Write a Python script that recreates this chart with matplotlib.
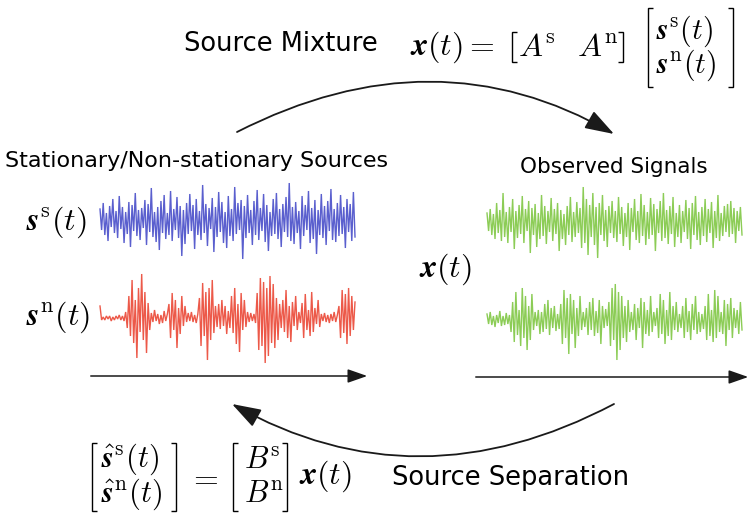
import matplotlib
matplotlib.use("Agg")
import matplotlib.pyplot as plt
from matplotlib.patches import FancyArrowPatch
from matplotlib.path import Path
from matplotlib.mathtext import MathTextParser

plt.rcParams['mathtext.fontset'] = 'cm'
plt.rcParams['font.family'] = ['DejaVu Sans']

# ---- signal data (pixel amplitudes, positive = up) ----
blue_s = [12,-9,18,-14,8,-20,15,-6,22,-12,10,-17,25,-8,14,-22,9,-13,19,-26,16,-10,28,-15,11,-19,13,-7,21,-24,
          17,-11,33,-16,9,-21,14,-29,20,-12,26,-18,8,-14,30,-20,12,-9,24,-17,15,-35,11,-23,18,-13,27,-10,16,-28,
          22,-14,10,-19,36,-12,17,-25,13,-8,23,-31,14,-16,29,-11,19,-22,9,-27,25,-15,12,-20,34,-13,18,-9,21,-38,
          15,-17,26,-12,11,-24,20,-14,31,-19,13,-10,27,-21,16,-30,9,-15,22,-13,28,-18,12,-26,17,-11,24,-16,38,-20,
          14,-23,19,-12,10,-28,25,-15,16,-9,30,-22,13,-18,21,-33,11,-14,27,-17,15,-24,20,-10,32,-19,12,-21,18,-15,
          26,-13,14,-27,22,-11,17,-20,29,-16]
red_n = [12,-2,1,-2,2,-1,2,-3,1,-2,2,-1,3,-2,2,-3,
         6,-10,22,-18,38,-25,18,-40,30,-14,44,-22,26,-35,15,-12,
         5,-4,8,-3,4,-6,3,-5,7,-3,4,
         14,-20,25,-12,18,-30,10,-16,22,-8,12,
         -4,5,-3,6,-4,3,-5,4,
         20,-28,35,-18,26,-42,30,-22,38,-15,12,
         -9,14,-11,18,-8,12,-16,7,-10,
         22,-15,30,-26,14,-34,25,-12,18,-9,6,
         -4,5,-3,4,-5,
         25,-32,40,-28,36,-45,30,-38,42,-25,34,-30,20,-22,14,
         -10,18,-14,28,-20,12,-24,16,-8,22,-12,6,
         -5,15,-20,24,-12,8,-18,26,-14,10,-6,18,-9,4,
         -3,5,-4,3,-5,4,-3,6,-4,3,
         12,-20,28,-15,24,-26,30,-18,22,-12,16]
green_1 = [10,-8,14,-12,9,-16,20,-10,13,-18,30,-14,11,-20,16,-9,24,-26,12,-15,
           18,-11,27,-20,14,-8,22,-30,15,-12,19,-24,10,-16,28,-13,17,-21,12,-9,
           25,-18,14,-11,20,-28,13,-16,9,-22,17,-12,26,-19,11,-14,21,-10,15,-25,
           36,-20,24,-32,18,-14,30,-22,16,-35,20,-12,28,-18,13,-24,17,-10,22,-15,
           12,-19,26,-11,16,-23,10,-14,20,-27,15,-9,24,-17,12,-20,29,-13,18,-22,
           11,-16,25,-12,19,-28,14,-10,22,-18,30,-15,13,-21,17,-11,26,-24,10,-14,
           18,-20,12,-9,23,-16,15,-26,20,-12,27,-17,11,-22,16,-13,24,-19,14,-10,
           21,-25,12,-15,28,-18,10,-13,17,-9,19,-14,22,-11,15,-20,12,-8,16,-12]
green_2 = [6,-4,8,-5,4,-7,5,-3,9,-6,4,-5,7,-4,5,
           -12,18,-22,28,-15,10,-26,32,-18,24,-30,14,-20,26,-10,8,
           -6,10,-14,8,-12,16,-9,20,-15,12,-8,14,-11,6,-9,
           16,-24,30,-18,22,-34,26,-14,20,-28,12,-16,24,-10,8,
           -7,12,-15,18,-10,22,-16,9,-13,20,-24,14,-8,11,-6,
           18,-26,32,-20,36,-40,28,-30,24,-18,14,-22,20,-12,8,
           -10,16,-20,12,-8,22,-28,18,-14,10,-16,24,-12,8,-6,
           12,-18,26,-14,20,-24,10,-16,28,-20,14,-10,18,-12,6,
           -8,14,-18,22,-12,9,-20,16,-10,24,-14,8,-12,6,-9,
           14,-20,26,-16,10,-22,30,-18,24,-12,8,-14,20,-26,16,-10,22,-18,12,-8,10,-14,18,-10]

W, H = 751, 516
fig = plt.figure(figsize=(W/100, H/100), dpi=100)
ax = fig.add_axes([0, 0, 1, 1])
ax.set_xlim(0, W)
ax.set_ylim(H, 0)
ax.axis('off')

def draw_signal(vals, x0, x1, yc, color):
    n = len(vals)
    xs = [x0 + (x1 - x0) * i / (n - 1) for i in range(n)]
    ys = [yc - v for v in vals]
    ax.plot(xs, ys, color=color, lw=1.0, alpha=0.8, solid_joinstyle='miter')

draw_signal(blue_s, 100, 355, 221, '#3137c2')
draw_signal(red_n, 100, 355, 318, '#e8301c')
draw_signal(green_1, 487, 742, 223, '#6fc02c')
draw_signal(green_2, 487, 742, 320, '#6fc02c')

# ---- math helper ----
_parser = MathTextParser('path')
def ok(s):
    try:
        _parser.parse(s)
        return True
    except Exception:
        return False

if ok(r'$\boldsymbol{x}$'):
    BX, BS = r'\boldsymbol{x}', r'\boldsymbol{s}'
elif ok(r'$\mathbfit{x}$'):
    BX, BS = r'\mathbfit{x}', r'\mathbfit{s}'
else:
    BX, BS = r'\mathbf{x}', r'\mathbf{s}'

MS = 23
def m(x, y, s, ha='left', size=MS):
    ax.text(x, y, s, ha=ha, va='center', fontsize=size, color='black')

def bracket(x, y0, y1, side, serif=5, lw=1.0):
    d = serif if side == 'L' else -serif
    ax.plot([x + d, x, x, x + d], [y0, y0, y1, y1], color='black', lw=lw,
            solid_joinstyle='miter', solid_capstyle='butt')

# ---- texts ----
ax.text(281, 44, 'Source Mixture', ha='center', va='center', fontsize=18.5)
ax.text(197, 161, 'Stationary/Non-stationary Sources', ha='center', va='center', fontsize=16)
ax.text(614, 167, 'Observed Signals', ha='center', va='center', fontsize=15.5)
ax.text(511, 478, 'Source Separation', ha='center', va='center', fontsize=18.5)

# top formula
m(410, 47, r'$' + BX + r'(t) =$')
bracket(512, 32, 62, 'L')
m(518, 47, r'$A^{\mathrm{s}}$')
m(577, 47, r'$A^{\mathrm{n}}$')
bracket(623, 32, 62, 'R')
bracket(648, 8, 87, 'L')
m(656, 31, r'$' + BS + r'^{\mathrm{s}}(t)$', size=21.5)
m(656, 65, r'$' + BS + r'^{\mathrm{n}}(t)$', size=21.5)
bracket(733, 8, 87, 'R')

# left labels
m(26, 222, r'$' + BS + r'^{\mathrm{s}}(t)$')
m(26, 317, r'$' + BS + r'^{\mathrm{n}}(t)$')
m(419, 269, r'$' + BX + r'(t)$')

# bottom formula
bracket(92, 443, 511, 'L')
m(101, 459, r'$\hat{' + BS + r'}^{\mathrm{s}}(t)$', size=22)
m(101, 494, r'$\hat{' + BS + r'}^{\mathrm{n}}(t)$', size=22)
bracket(176, 443, 511, 'R')
m(203, 478, r'$=$', ha='center')
bracket(233, 443, 511, 'L')
m(244, 459, r'$B^{\mathrm{s}}$', size=22)
m(244, 494, r'$B^{\mathrm{n}}$', size=22)
bracket(287, 443, 511, 'R')
m(299, 476, r'$' + BX + r'(t)$')

# ---- arrows ----
def curve(p0, c, p1):
    path = Path([p0, c, p1], [Path.MOVETO, Path.CURVE3, Path.CURVE3])
    arr = FancyArrowPatch(path=path, arrowstyle='-|>,head_length=1.5,head_width=0.5',
                          mutation_scale=12, lw=1.3, color='#1a1a1a')
    ax.add_patch(arr)

curve((237, 132), (435, 31), (614, 134))
curve((614, 404), (417, 508), (232, 404))

for (x0, x1, y) in [(88, 370, 376), (473, 751, 377)]:
    ax.add_patch(FancyArrowPatch((x0, y), (x1, y), arrowstyle='-|>,head_length=1.0,head_width=0.35',
                                 mutation_scale=12, lw=1.1, color='#1a1a1a'))

fig.savefig('out.png', dpi=100)
